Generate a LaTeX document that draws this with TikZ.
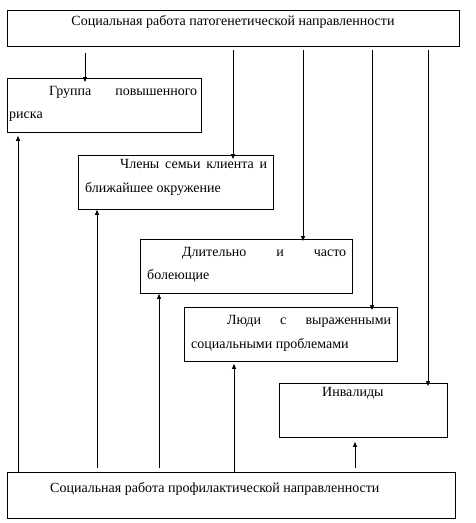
\documentclass[tikz,border=0pt]{standalone}
\usepackage{fontspec}
\setmainfont{Liberation Serif}
\usetikzlibrary{arrows.meta}
\begin{document}
\begin{tikzpicture}[x=1pt,y=-1pt,
  box/.style={draw,line width=0.9pt,inner sep=0pt,anchor=north west},
  txt/.style={anchor=base west,inner sep=0pt,font=\fontsize{14}{16}\selectfont},
  ctxt/.style={anchor=base,inner sep=0pt,font=\fontsize{14}{16}\selectfont},
  arr/.style={line width=0.8pt,-{Triangle[length=5pt,width=4pt]}},
  ln/.style={line width=0.8pt}]
\useasboundingbox[fill=white] (0,0) rectangle (475,523);
% boxes
\node[box,minimum width=452pt,minimum height=36pt] (top) at (7,10) {};
\node[box,minimum width=194pt,minimum height=54pt] (g) at (7,78) {};
\node[box,minimum width=195pt,minimum height=54pt] (c) at (78,155) {};
\node[box,minimum width=212pt,minimum height=54pt] (d) at (140,239) {};
\node[box,minimum width=213pt,minimum height=54pt] (l) at (184,307) {};
\node[box,minimum width=168pt,minimum height=54pt] (i) at (279,383) {};
\node[box,minimum width=448pt,minimum height=46pt] (bot) at (7,472) {};
% texts
\node[ctxt] (ttop) at (233,25) {Социальная работа патогенетической направленности};
\node[txt] (tg1) at (49,95) {\makebox[148pt][s]{Группа повышенного}};
\node[txt] (tg2) at (9,118) {риска};
\node[txt] (tc1) at (120,168) {\makebox[147pt][s]{Члены семьи клиента и}};
\node[txt] (tc2) at (85,192) {ближайшее окружение};
\node[txt] (td1) at (182,256) {\makebox[164pt][s]{Длительно и часто}};
\node[txt] (td2) at (147,279) {болеющие};
\node[txt] (tl1) at (227,324) {\makebox[164pt][s]{Люди с выраженными}};
\node[txt] (tl2) at (191,348) {социальными проблемами};
\node[txt] (ti) at (322,396) {Инвалиды};
\node[txt] (tbot) at (50,492) {Социальная работа профилактической направленности};
% top connectors
\coordinate (s1) at (85,53);
\coordinate (s2) at (233,50);
\coordinate (s3) at (303,50);
\coordinate (s4) at (372,50);
\coordinate (s5) at (428,50);
\draw[arr,shorten >=-4pt] (s1) -- (s1 |- g.north);
\draw[arr,shorten >=-4pt] (s2) -- (s2 |- c.north);
\draw[arr,shorten >=-2pt] (s3) -- (s3 |- d.north);
\draw[arr,shorten >=-3pt] (s4) -- (s4 |- l.north);
\draw[arr,shorten >=-3pt] (s5) -- (s5 |- i.north);
% bottom connectors
\coordinate (b1) at (18,472);
\coordinate (b2) at (97,468);
\coordinate (b3) at (159,468);
\coordinate (b4) at (234,472);
\coordinate (b5) at (355,468);
\draw[arr,shorten >=3pt] (b1) -- (b1 |- g.south);
\draw[arr,shorten >=0pt] (b2) -- (b2 |- c.south);
\draw[arr,shorten >=0pt] (b3) -- (b3 |- d.south);
\draw[arr,shorten >=2pt] (b4) -- (b4 |- l.south);
\draw[arr,shorten >=4pt] (b5) -- (b5 |- i.south);
\end{tikzpicture}
\end{document}
